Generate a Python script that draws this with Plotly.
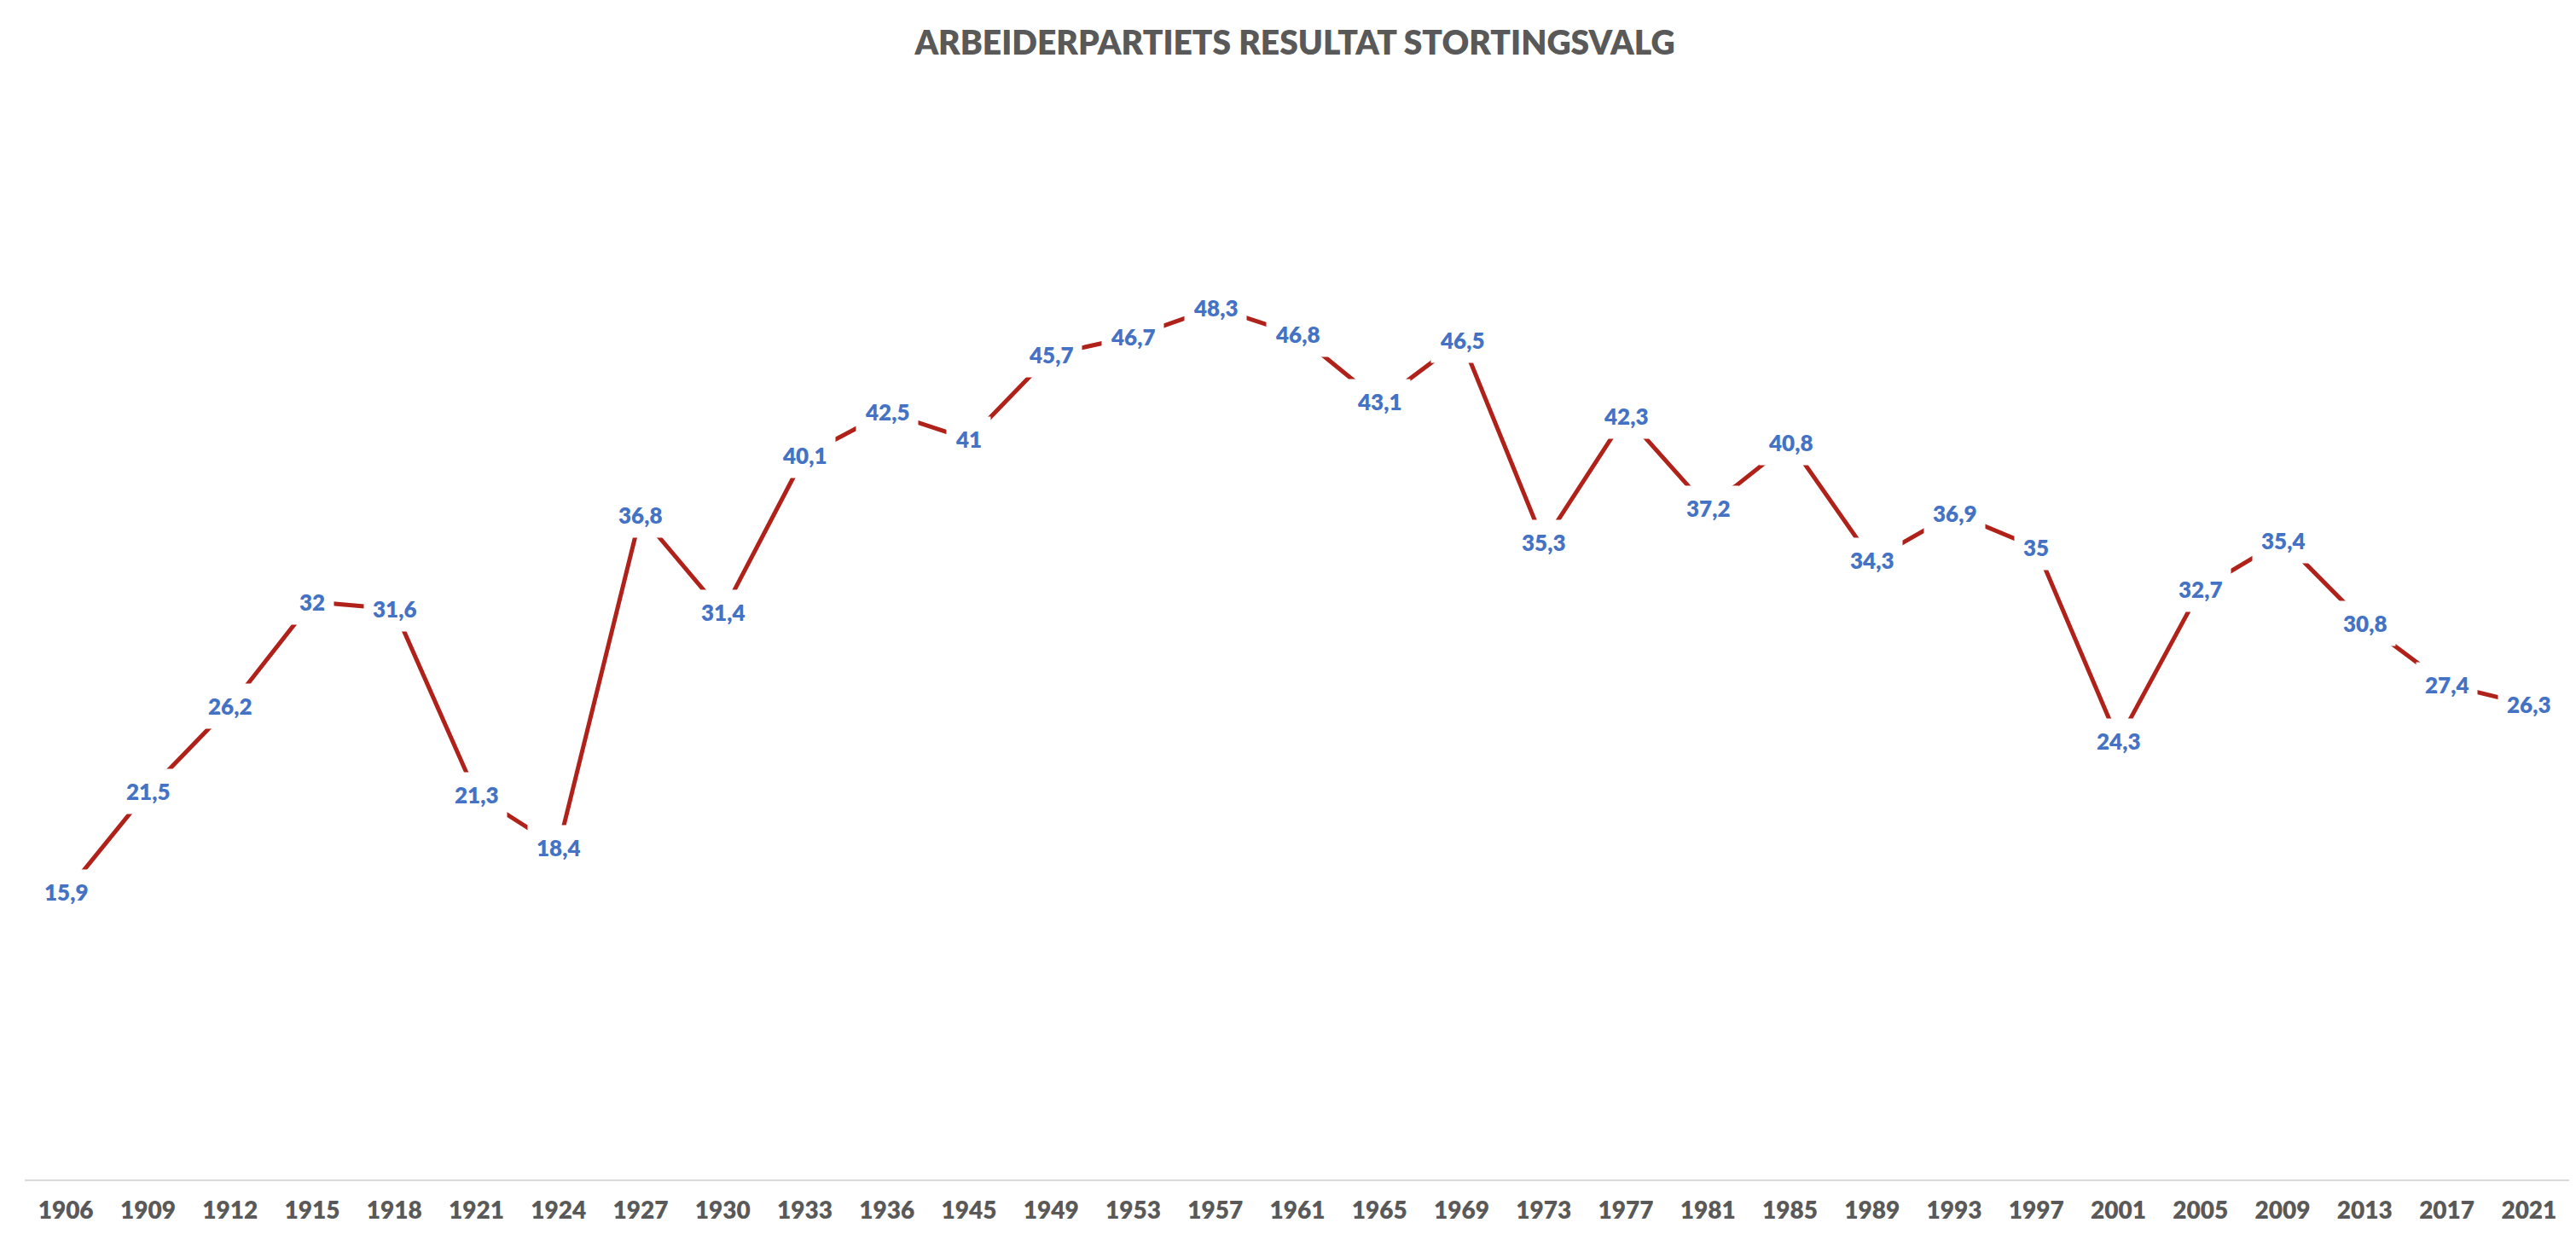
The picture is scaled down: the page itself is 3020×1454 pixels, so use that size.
import plotly.graph_objects as go

years = ["1906", "1909", "1912", "1915", "1918", "1921", "1924", "1927", "1930", "1933",
         "1936", "1945", "1949", "1953", "1957", "1961", "1965", "1969", "1973", "1977",
         "1981", "1985", "1989", "1993", "1997", "2001", "2005", "2009", "2013", "2017", "2021"]
results = [15.9, 21.5, 26.2, 32, 31.6, 21.3, 18.4, 36.8, 31.4, 40.1,
           42.5, 41, 45.7, 46.7, 48.3, 46.8, 43.1, 46.5, 35.3, 42.3,
           37.2, 40.8, 34.3, 36.9, 35, 24.3, 32.7, 35.4, 30.8, 27.4, 26.3]
title_text = "ARBEIDERPARTIETS RESULTAT STORTINGSVALG"

FONT = "Lato, 'Liberation Sans Narrow', 'DejaVu Sans Condensed', sans-serif"
LINE_COLOR = "#B0211A"
LABEL_COLOR = "#4472C4"
GRAY = "#595959"

fig = go.Figure()
fig.add_trace(go.Scatter(
    x=years, y=results, mode="lines",
    line=dict(color=LINE_COLOR, width=5),
    hoverinfo="skip", showlegend=False,
))

def fmt(v):
    return ("%g" % v).replace(".", ",")

# category axis: annotation x uses the category's serial index
for i, v in enumerate(results):
    fig.add_annotation(
        x=i, y=v, xref="x", yref="y", text=fmt(v), showarrow=False,
        bgcolor="white", borderpad=10,
        font=dict(family=FONT, size=26, color=LABEL_COLOR, weight=800),
    )

fig.update_layout(
    width=3020, height=1454,
    margin=dict(l=21, r=15, t=105, b=79),
    paper_bgcolor="white", plot_bgcolor="white",
    title=dict(text=title_text, x=0.5, xanchor="center", y=1 - 42 / 1454, yanchor="middle",
               font=dict(family=FONT, size=39, color=GRAY, weight=800)),
    xaxis=dict(type="category", range=[-0.5, len(years) - 0.5], showgrid=False,
               showline=True, linecolor="#D9D9D9", linewidth=2, ticks="", zeroline=False,
               tickfont=dict(family=FONT, size=28, color=GRAY, weight=800),
               ticklabelstandoff=10),
    yaxis=dict(range=[0, 60], visible=False, showgrid=False, zeroline=False),
)

fig.write_html("out.html")
